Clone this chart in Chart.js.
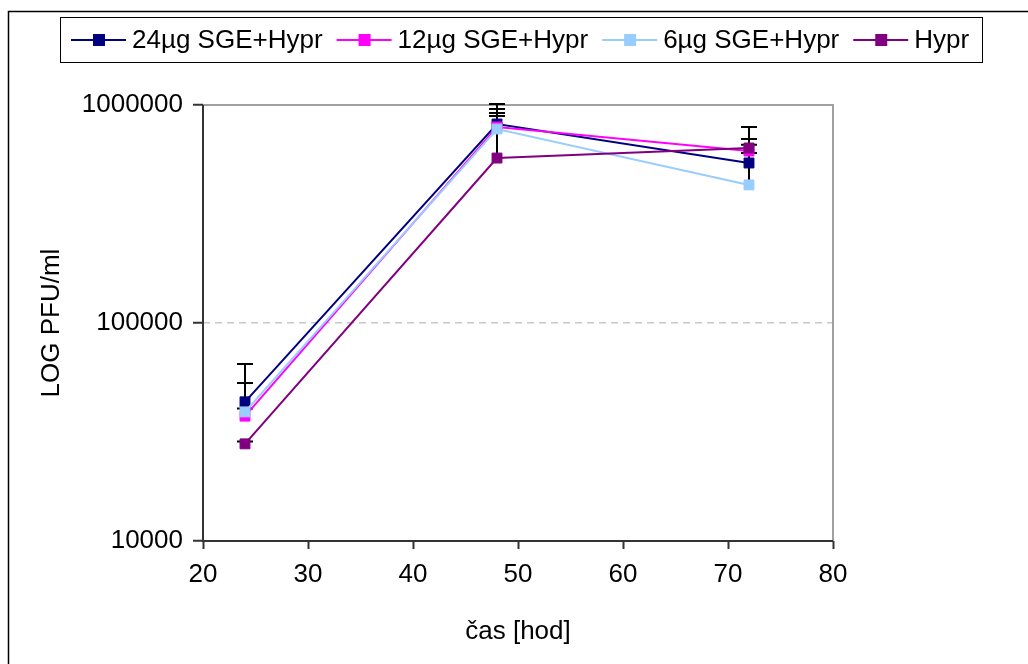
<!DOCTYPE html>
<html>
<head>
<meta charset="utf-8">
<script src="https://cdn.jsdelivr.net/npm/chart.js@4.4.0/dist/chart.umd.min.js"></script>
<style>
  html, body { margin: 0; padding: 0; background: #fff; }
  #wrap { width: 1028px; height: 664px; }
</style>
</head>
<body>
<div id="wrap"><canvas id="lineChart" width="1028" height="664"></canvas></div>
<script>
// time points (hours)
const times = [24, 48, 72];
const seriesNames = ['24µg SGE+Hypr', '12µg SGE+Hypr', '6µg SGE+Hypr', 'Hypr'];
const seriesColors = ['#000080', '#FF00FF', '#99CCFF', '#800080'];
// PFU/ml values
const sge24 = [43500, 818000, 542000];
const sge12 = [37400, 793000, 615000];
const sge6 = [39100, 776000, 430000];
const hypr = [27900, 571000, 635000];
// top of the (upward) error bars
const sge24Err = [64800, 1010000, 698000];
const sge12Err = [40500, 959000, 657000];
const sge6Err = [53100, 919000, 603000];
const hyprErr = [28600, 890000, 793000];
const yTicks = [10000, 100000, 1000000];
const xTicks = [20, 30, 40, 50, 60, 70, 80];

const values = [sge24, sge12, sge6, hypr];
const errTops = [sge24Err, sge12Err, sge6Err, hyprErr];
const FONT = "'Liberation Sans', Arial, sans-serif";
const FS = 26;

const datasets = values.map(function (v, i) {
  return {
    label: seriesNames[i],
    data: times.map(function (t, j) { return { x: t, y: v[j] }; }),
    borderColor: seriesColors[i],
    backgroundColor: seriesColors[i],
    borderWidth: 2,
    pointStyle: 'rect',
    pointRadius: 7,
    pointBorderWidth: 1,
    showLine: true,
    order: 3 - i
  };
});

// error bars, border lines and the boxed legend
const extras = {
  id: 'extras',
  beforeDatasetsDraw(chart) {
    const ctx = chart.ctx, xs = chart.scales.x, ys = chart.scales.y;
    const a = chart.chartArea;
    ctx.save();
    // plot area frame: grey top/right, dark axes left/bottom
    ctx.strokeStyle = '#a0a0a0';
    ctx.lineWidth = 2;
    ctx.beginPath();
    ctx.moveTo(a.left, a.top); ctx.lineTo(a.right, a.top); ctx.lineTo(a.right, a.bottom);
    ctx.stroke();
    ctx.strokeStyle = '#333';
    ctx.beginPath();
    ctx.moveTo(a.left, a.top); ctx.lineTo(a.left, a.bottom); ctx.lineTo(a.right, a.bottom);
    ctx.stroke();
    // error bars
    ctx.strokeStyle = '#000';
    ctx.lineWidth = 2;
    errTops.forEach(function (e, i) {
      e.forEach(function (top, j) {
        const px = xs.getPixelForValue(times[j]);
        const y0 = ys.getPixelForValue(values[i][j]);
        const y1 = ys.getPixelForValue(top);
        ctx.beginPath();
        ctx.moveTo(px, y0); ctx.lineTo(px, y1);
        ctx.moveTo(px - 8, y1); ctx.lineTo(px + 8, y1);
        ctx.stroke();
      });
    });
    ctx.restore();
  },
  afterDraw(chart) {
    const ctx = chart.ctx;
    ctx.save();
    // outer chart frame
    ctx.strokeStyle = '#000';
    ctx.lineWidth = 1.5;
    ctx.strokeRect(8.5, 11.5, 1200, 1200);
    // legend box
    ctx.lineWidth = 1;
    ctx.fillStyle = '#fff';
    ctx.fillRect(60.5, 17.5, 922, 45);
    ctx.strokeRect(60.5, 17.5, 922, 45);
    ctx.font = FS + 'px ' + FONT;
    ctx.textBaseline = 'middle';
    let x = 71;
    const cy = 40;
    seriesNames.forEach(function (name, i) {
      ctx.strokeStyle = seriesColors[i];
      ctx.lineWidth = 2;
      ctx.beginPath();
      ctx.moveTo(x, cy); ctx.lineTo(x + 55, cy);
      ctx.stroke();
      ctx.fillStyle = seriesColors[i];
      ctx.fillRect(x + 22, cy - 6, 12, 12);
      ctx.fillStyle = '#000';
      ctx.fillText(name, x + 61, cy + 1);
      x += 61 + ctx.measureText(name).width + 14;
    });
    ctx.restore();
  }
};

new Chart(document.getElementById('lineChart'), {
  type: 'scatter',
  data: { datasets: datasets },
  plugins: [extras],
  options: {
    responsive: false,
    animation: false,
    layout: { padding: { left: 0, top: 105, right: 195, bottom: 0 } },
    plugins: {
      legend: { display: false },
      tooltip: { enabled: false }
    },
    scales: {
      x: {
        type: 'linear',
        min: 20, max: 80,
        afterFit: function (s) { s.height = 123; },
        afterBuildTicks: function (s) { s.ticks = xTicks.map(function (v) { return { value: v }; }); },
        ticks: { color: '#000', font: { family: FONT, size: FS }, padding: 10 },
        grid: { display: true, drawOnChartArea: false, tickLength: 8, tickColor: '#333', tickWidth: 2 },
        border: { display: false },
        title: { display: true, text: 'čas [hod]', color: '#000', font: { family: FONT, size: FS }, padding: { top: 0, bottom: 17 } }
      },
      y: {
        type: 'logarithmic',
        min: 10000, max: 1000000,
        afterFit: function (s) { s.width = 203; },
        afterBuildTicks: function (s) { s.ticks = yTicks.map(function (v) { return { value: v }; }); },
        ticks: {
          color: '#000', font: { family: FONT, size: FS }, padding: 10,
          callback: function (v) { return String(v); }
        },
        grid: {
          color: function (c) { return c.tick && c.tick.value === 100000 ? '#c8c8c8' : 'rgba(0,0,0,0)'; },
          lineWidth: 1.5,
          tickLength: 10, tickColor: '#333', tickWidth: 2
        },
        border: { display: false, dash: [7, 5] },
        title: { display: true, text: 'LOG PFU/ml', color: '#000', font: { family: FONT, size: FS }, padding: { top: 36, bottom: 0 } }
      }
    }
  }
});
</script>
</body>
</html>
